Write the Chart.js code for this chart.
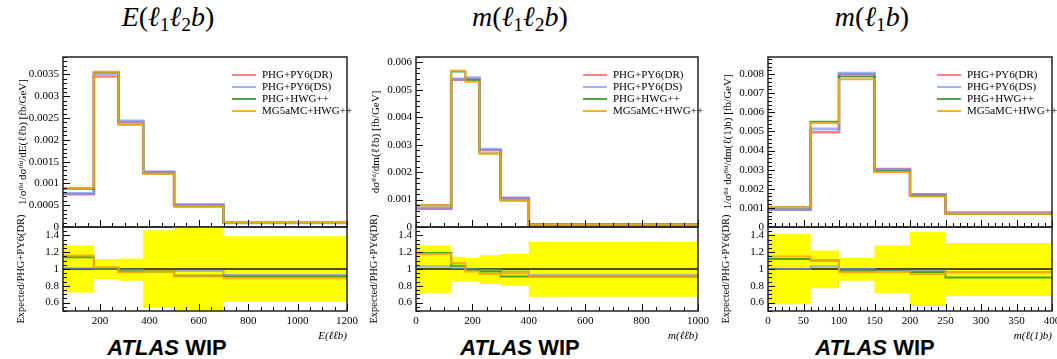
<!DOCTYPE html>
<html>
<head>
<meta charset="utf-8">
<script src="https://cdn.jsdelivr.net/npm/chart.js@4/dist/chart.umd.min.js"></script>
<style>
body { margin: 0; background: #fff; width: 1057px; height: 359px; position: relative; overflow: hidden; }
canvas { position: absolute; }
.ttl { position: absolute; top: 1px; width: 200px; text-align: center; font-family: "Liberation Serif"; font-size: 28px; line-height: 32px; }
.ttl sub { font-size: 70%; vertical-align: -0.25em; line-height: 0; font-style: normal; }
.atlas { position: absolute; top: 336px; width: 200px; text-align: center; font-family: "Liberation Sans"; font-size: 22px; line-height: 24px; font-weight: bold; }
</style>
</head>
<body>
<div class="ttl" style="left:68px"><i>E</i>(<i>ℓ</i><sub>1</sub><i>ℓ</i><sub>2</sub><i>b</i>)</div>
<div class="ttl" style="left:420px"><i>m</i>(<i>ℓ</i><sub>1</sub><i>ℓ</i><sub>2</sub><i>b</i>)</div>
<div class="ttl" style="left:772px"><i>m</i>(<i>ℓ</i><sub>1</sub><i>b</i>)</div>
<div class="atlas" style="left:67px"><i>ATLAS</i> WIP</div>
<div class="atlas" style="left:420px"><i>ATLAS</i> WIP</div>
<div class="atlas" style="left:775px"><i>ATLAS</i> WIP</div>

<script>
const samples = ["PHG+PY6(DR)", "PHG+PY6(DS)", "PHG+HWG++", "MG5aMC+HWG++"];

// E(l1 l2 b)
const eEdges = [50, 175, 275, 375, 500, 700, 1200];
const eDR = [0.00075, 0.00345, 0.00241, 0.00126, 0.00051, 0.00010];
const eDS = [0.00077, 0.00352, 0.00243, 0.00126, 0.00051, 0.00010];
const eHW = [0.00088, 0.00355, 0.00235, 0.00122, 0.00047, 0.00009];
const eMG = [0.00090, 0.00356, 0.00235, 0.00122, 0.00047, 0.00009];
const eRatioDR = [1, 1, 1, 1, 1, 1];
const eRatioDS = [1.01, 1.00, 0.99, 0.98, 0.98, 0.93];
const eRatioHW = [1.14, 1.01, 0.97, 0.97, 0.92, 0.91];
const eRatioMG = [1.16, 1.02, 0.96, 0.97, 0.91, 0.89];
const eBandUp = [1.28, 1.12, 1.125, 1.46, 1.52, 1.39];
const eBandDn = [0.72, 0.88, 0.86, 0.54, 0.48, 0.61];
const eTopTicks = [0, 0.0005, 0.001, 0.0015, 0.002, 0.0025, 0.003, 0.0035];
const eXTicks = [200, 400, 600, 800, 1000, 1200];

// m(l1 l2 b)
const mEdges = [0, 125, 175, 225, 300, 400, 1000];
const mDR = [0.00067, 0.00537, 0.00540, 0.00280, 0.00105, 0.00010];
const mDS = [0.00069, 0.00540, 0.00544, 0.00284, 0.00106, 0.00009];
const mHW = [0.00079, 0.00567, 0.00535, 0.00268, 0.00097, 0.00009];
const mMG = [0.00079, 0.00570, 0.00530, 0.00268, 0.00097, 0.00009];
const mRatioDR = [1, 1, 1, 1, 1, 1];
const mRatioDS = [1.03, 1.01, 1.00, 0.99, 0.97, 0.93];
const mRatioHW = [1.19, 1.04, 0.99, 0.97, 0.91, 0.91];
const mRatioMG = [1.18, 1.07, 0.97, 0.94, 0.95, 0.92];
const mBandUp = [1.28, 1.145, 1.13, 1.165, 1.18, 1.32];
const mBandDn = [0.71, 0.85, 0.85, 0.82, 0.80, 0.67];
const mTopTicks = [0, 0.001, 0.002, 0.003, 0.004, 0.005, 0.006];
const mXTicks = [0, 200, 400, 600, 800, 1000];

// m(l1 b)
const lEdges = [0, 60, 100, 150, 200, 250, 400];
const lDR = [0.00092, 0.00496, 0.00800, 0.00303, 0.00170, 0.00075];
const lDS = [0.00092, 0.00513, 0.00805, 0.00300, 0.00170, 0.00073];
const lHW = [0.00104, 0.00551, 0.00788, 0.00292, 0.00162, 0.00068];
const lMG = [0.00104, 0.00543, 0.00774, 0.00287, 0.00160, 0.00070];
const lRatioDR = [1, 1, 1, 1, 1, 1];
const lRatioDS = [1.00, 1.03, 1.00, 0.98, 0.98, 0.96];
const lRatioHW = [1.12, 1.10, 0.98, 0.97, 0.96, 0.90];
const lRatioMG = [1.15, 1.10, 0.96, 0.965, 0.94, 0.96];
const lBandUp = [1.42, 1.22, 1.13, 1.28, 1.44, 1.31];
const lBandDn = [0.58, 0.77, 0.86, 0.71, 0.56, 0.68];
const lTopTicks = [0, 0.001, 0.002, 0.003, 0.004, 0.005, 0.006, 0.007, 0.008];
const lXTicks = [0, 50, 100, 150, 200, 250, 300, 350, 400];

const ratioTicks = [0.6, 0.8, 1, 1.2, 1.4];

const colors = ["rgba(255,85,85,0.75)", "rgba(100,140,255,0.65)", "rgba(30,140,30,0.8)", "rgba(255,165,20,0.9)"];
const widths = [2.5, 3, 2, 2];
const serif = "Liberation Serif";

function hist(edges, vals) {
    const pts = vals.map((v, i) => ({ x: edges[i], y: v }));
    pts.push({ x: edges[edges.length - 1], y: vals[vals.length - 1] });
    return pts;
}
const fmt = v => String(parseFloat(Number(v).toFixed(6)));

// ROOT-like frame with inner ticks
const rootFrame = {
    id: "rootFrame",
    afterDatasetsDraw(chart, args, o) {
        const { ctx, chartArea: a, scales: { x, y } } = chart;
        const mark = (s, minor, major, draw) => {
            const start = Math.ceil(s.min / minor - 1e-9) * minor;
            for (let k = 0; ; k++) {
                const v = +(start + k * minor).toFixed(8);
                if (v > s.max + 1e-9) break;
                const isMaj = Math.abs(v / major - Math.round(v / major)) < 1e-6;
                draw(Math.round(s.getPixelForValue(v)) + 0.5, isMaj ? 7 : 4);
            }
        };
        ctx.save();
        ctx.strokeStyle = "#000";
        ctx.lineWidth = 1;
        ctx.beginPath();
        mark(x, o.xMinor, o.xMajor, (px, len) => { ctx.moveTo(px, a.bottom); ctx.lineTo(px, a.bottom - len); });
        mark(y, o.yMinor, o.yMajor, (py, len) => { ctx.moveTo(a.left, py); ctx.lineTo(a.left + len, py); });
        ctx.stroke();
        ctx.lineWidth = 1.5;
        ctx.strokeStyle = "#222";
        ctx.strokeRect(a.left, a.top, a.right - a.left, a.bottom - a.top);
        ctx.restore();
    }
};

// legend inside the top panel
const rootLegend = {
    id: "rootLegend",
    afterDraw(chart) {
        const { ctx, chartArea: a } = chart;
        ctx.save();
        ctx.font = "11px " + serif;
        ctx.textBaseline = "middle";
        ctx.fillStyle = "#000";
        samples.forEach((s, i) => {
            const yy = a.top + 18 + i * 12;
            ctx.strokeStyle = colors[i];
            ctx.lineWidth = 2;
            ctx.beginPath();
            ctx.moveTo(a.right - 115, yy);
            ctx.lineTo(a.right - 91, yy);
            ctx.stroke();
            ctx.fillText(s, a.right - 85, yy);
        });
        ctx.restore();
    }
};

function makeCanvas(left, top, w, h) {
    const c = document.createElement("canvas");
    c.width = w; c.height = h;
    c.style.left = left + "px"; c.style.top = top + "px";
    document.body.appendChild(c);
    return c;
}

function yScale(min, max, ticks, title, titlePad, titleSize) {
    return {
        min, max,
        afterBuildTicks: s => { s.ticks = ticks.map(v => ({ value: v })); },
        afterFit: s => { s.width = 63; s.paddingTop = 0; s.paddingBottom = 0; },
        grid: { display: false, drawTicks: false },
        border: { display: false },
        ticks: { font: { family: serif, size: 11 }, color: "#000", padding: 4, callback: v => fmt(v) },
        title: { display: true, text: title, align: "center", color: "#000",
                 font: { family: serif, size: titleSize }, padding: { top: titlePad, bottom: 0 } }
    };
}

function panel(p) {
    const w = 63 + p.boxW + p.padR;

    new Chart(makeCanvas(p.left, 50, w, 180), {
        type: "line",
        data: {
            datasets: p.series.map((vals, i) => ({
                label: samples[i], data: hist(p.edges, vals), stepped: true,
                borderColor: colors[i], borderWidth: widths[i], pointRadius: 0, fill: false, order: 4 - i
            }))
        },
        options: {
            animation: false, responsive: false,
            layout: { padding: { top: 7, bottom: 3, left: 0, right: p.padR } },
            plugins: { legend: { display: false }, tooltip: { enabled: false },
                       rootFrame: { xMinor: p.xMinor, xMajor: p.xMajor, yMinor: p.yMinor, yMajor: p.yMajor } },
            scales: {
                x: { type: "linear", display: false, min: p.edges[0], max: p.edges[p.edges.length - 1] },
                y: yScale(0, p.yMax, p.topTicks, p.yTitle, 17, 11)
            }
        },
        plugins: [rootFrame, rootLegend]
    });

    const ratioSets = [
        { data: hist(p.edges, p.bandUp), stepped: true, borderWidth: 0, pointRadius: 0, fill: false, order: 10 },
        { data: hist(p.edges, p.bandDn), stepped: true, borderWidth: 0, pointRadius: 0, fill: "-1",
          backgroundColor: "#ffff00", order: 9 },
        { data: hist(p.edges, p.ratios[0]), stepped: true, borderColor: "#111", borderWidth: 1.5, pointRadius: 0, fill: false, order: 4 }
    ];
    for (let i = 1; i < 4; i++) {
        ratioSets.push({ data: hist(p.edges, p.ratios[i]), stepped: true, borderColor: colors[i],
                         borderWidth: 2, pointRadius: 0, fill: false, order: 4 - i });
    }
    new Chart(makeCanvas(p.left, 200, w, 143), {
        type: "line",
        data: { datasets: ratioSets },
        options: {
            animation: false, responsive: false,
            layout: { padding: { top: 27, bottom: 0, left: 0, right: p.padR } },
            plugins: { legend: { display: false }, tooltip: { enabled: false },
                       rootFrame: { xMinor: p.xMinor, xMajor: p.xMajor, yMinor: 0.05, yMajor: 0.2 } },
            scales: {
                x: {
                    type: "linear", min: p.edges[0], max: p.edges[p.edges.length - 1],
                    afterBuildTicks: s => { s.ticks = p.xTicks.map(v => ({ value: v })); },
                    afterFit: s => { s.height = 32; s.paddingLeft = 0; s.paddingRight = 0; },
                    grid: { display: false, drawTicks: false },
                    border: { display: false },
                    ticks: { font: { family: serif, size: 11 }, color: "#000", padding: 4, autoSkip: false, maxRotation: 0,
                             callback: v => String(v) },
                    title: { display: true, text: p.xTitle, align: "end", color: "#000",
                             font: { family: serif, size: 11, style: "italic" }, padding: { top: 0, bottom: 0 } }
                },
                y: yScale(0.5, 1.5, ratioTicks, "Expected/PHG+PY6(DR)", 15, 10.5)
            }
        },
        plugins: [rootFrame]
    });
}

panel({
    left: 0, boxW: 284, padR: 12, edges: eEdges, yMax: 0.0039, topTicks: eTopTicks, xTicks: eXTicks,
    series: [eDR, eDS, eHW, eMG], ratios: [eRatioDR, eRatioDS, eRatioHW, eRatioMG], bandUp: eBandUp, bandDn: eBandDn,
    xMinor: 50, xMajor: 200, yMinor: 0.0001, yMajor: 0.0005,
    yTitle: "1/σᶠⁱᵈ dσᶠⁱᵈ/dE(ℓℓb) [fb/GeV]", xTitle: "E(ℓℓb)"
});
panel({
    left: 353, boxW: 282, padR: 12, edges: mEdges, yMax: 0.0062, topTicks: mTopTicks, xTicks: mXTicks,
    series: [mDR, mDS, mHW, mMG], ratios: [mRatioDR, mRatioDS, mRatioHW, mRatioMG], bandUp: mBandUp, bandDn: mBandDn,
    xMinor: 50, xMajor: 200, yMinor: 0.0002, yMajor: 0.001,
    yTitle: "dσᶠⁱᵈ/dm(ℓℓb) [fb/GeV]", xTitle: "m(ℓℓb)"
});
panel({
    left: 705, boxW: 284, padR: 5, edges: lEdges, yMax: 0.0089, topTicks: lTopTicks, xTicks: lXTicks,
    series: [lDR, lDS, lHW, lMG], ratios: [lRatioDR, lRatioDS, lRatioHW, lRatioMG], bandUp: lBandUp, bandDn: lBandDn,
    xMinor: 10, xMajor: 50, yMinor: 0.0002, yMajor: 0.001,
    yTitle: "1/σᶠⁱᵈ dσᶠⁱᵈ/dm(ℓ(1)b) [fb/GeV]", xTitle: "m(ℓ(1)b)"
});
</script>
</body>
</html>
